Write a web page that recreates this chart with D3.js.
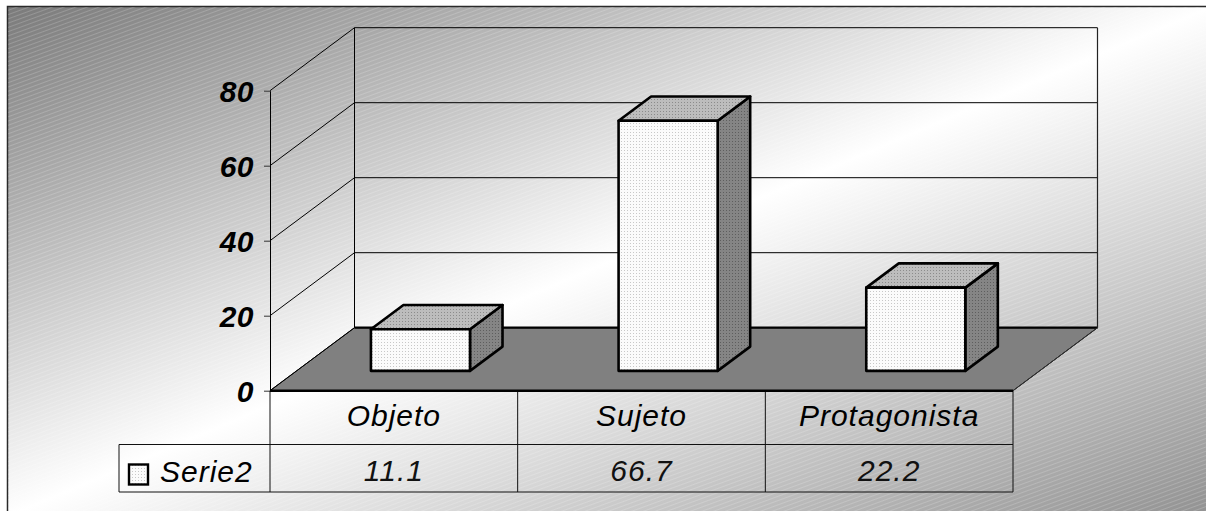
<!DOCTYPE html>
<html>
<head>
<meta charset="utf-8">
<script src="https://cdn.jsdelivr.net/npm/d3@7"></script>
<style>
  html, body { margin: 0; padding: 0; background: #ffffff; }
  svg { display: block; }
  text { font-family: "Liberation Sans", Arial, sans-serif; }
</style>
</head>
<body>
<svg id="chart" width="1206" height="511"></svg>
<script>
// Data
const categories = ["Objeto", "Sujeto", "Protagonista"];
const serie2 = [11.1, 66.7, 22.2];
const yTicks = [0, 20, 40, 60, 80];
const seriesName = "Serie2";

const W = 1206, H = 511;
const svg = d3.select("#chart");
const defs = svg.append("defs");

// Background: diagonal grey-white-grey gradient with a fine hatch texture
const grad = defs.append("linearGradient").attr("id", "bg")
  .attr("x1", 0).attr("y1", 0).attr("x2", 1).attr("y2", 1);
grad.append("stop").attr("offset", 0).attr("stop-color", "#7a7a7a");
grad.append("stop").attr("offset", 0.5).attr("stop-color", "#ffffff");
grad.append("stop").attr("offset", 1).attr("stop-color", "#919191");

const hatch = defs.append("pattern").attr("id", "hatch")
  .attr("patternUnits", "userSpaceOnUse")
  .attr("width", 12).attr("height", 4)
  .attr("patternTransform", "rotate(-20)");
hatch.append("rect").attr("width", 12).attr("height", 1)
  .attr("fill", "#ffffff").attr("opacity", 0.18);

// Dotted fills for the bar faces
function dotPattern(id, base, dot) {
  const p = defs.append("pattern").attr("id", id)
    .attr("patternUnits", "userSpaceOnUse").attr("width", 3).attr("height", 3);
  p.append("rect").attr("width", 3).attr("height", 3).attr("fill", base);
  p.append("rect").attr("width", 1).attr("height", 1).attr("fill", dot);
}
dotPattern("faceFront", "#fbfbfb", "#c8c8c8");
dotPattern("faceTop", "#bdbdbd", "#8c8c8c");
dotPattern("faceSide", "#858585", "#5e5e5e");

svg.append("rect")
  .attr("x", 7.5).attr("y", 6.5).attr("width", 1205).attr("height", 510)
  .attr("fill", "url(#bg)").attr("stroke", "#2a2a2a").attr("stroke-width", 1.5);
svg.append("rect")
  .attr("x", 8).attr("y", 7).attr("width", 1204).attr("height", 509)
  .attr("fill", "url(#hatch)");

// Scales
const y = d3.scaleLinear().domain([0, 80]).range([390.7, 90.7]);
const col = d3.scaleBand().domain(categories).range([270, 1013]);
const bx = d3.scaleBand().domain(categories).range([270, 1013])
  .paddingInner(0.6).paddingOuter(0.3);

// Oblique depth projection
const DX = 84.5, DY = -63;
const proj = (x, v, d) => [x + d * DX, y(v) + d * DY];
const poly = pts => "M" + pts.map(p => p.join(",")).join("L") + "Z";
const line = (a, b) => "M" + a.join(",") + "L" + b.join(",");

const x0 = col.range()[0], x1 = col.range()[1];
const g = svg.append("g");

// Floor
g.append("path")
  .attr("d", poly([proj(x0, 0, 0), proj(x1, 0, 0), proj(x1, 0, 1), proj(x0, 0, 1)]))
  .attr("fill", "#808080").attr("stroke", "#000").attr("stroke-width", 1);
g.append("path").attr("d", line(proj(x0, 0, 1), proj(x1, 0, 1)))
  .attr("stroke", "#000").attr("stroke-width", 2.2);

// Walls: gridlines on back wall and side wall
yTicks.filter(v => v > 0).forEach(v => {
  g.append("path").attr("d", line(proj(x0, v, 1), proj(x1, v, 1)))
    .attr("stroke", "#000").attr("stroke-width", 1).attr("fill", "none");
  g.append("path").attr("d", line(proj(x0, v, 0), proj(x0, v, 1)))
    .attr("stroke", "#000").attr("stroke-width", 1).attr("fill", "none");
});
g.append("path").attr("d", line(proj(x0, 0, 1), proj(x0, 80, 1)))
  .attr("stroke", "#000").attr("stroke-width", 1);
g.append("path").attr("d", line(proj(x1, 0, 1), proj(x1, 80, 1)))
  .attr("stroke", "#222").attr("stroke-width", 1.2);
g.append("path").attr("d", line(proj(x0, 0, 0), proj(x0, 0, 1)))
  .attr("stroke", "#000").attr("stroke-width", 1);

// Bars
const z0 = 0.315, z1 = 0.70;
const bars = g.selectAll("g.bar")
  .data(categories.map((c, i) => ({ c, v: serie2[i] })))
  .join("g").attr("class", "bar");
bars.each(function (d) {
  const a = bx(d.c), b = a + bx.bandwidth();
  const s = d3.select(this);
  const common = el => el.attr("stroke", "#000").attr("stroke-width", 2.6)
    .attr("stroke-linejoin", "round");
  common(s.append("path")
    .attr("d", poly([proj(b, 0, z0), proj(b, 0, z1), proj(b, d.v, z1), proj(b, d.v, z0)]))
    .attr("fill", "url(#faceSide)"));
  common(s.append("path")
    .attr("d", poly([proj(a, d.v, z0), proj(b, d.v, z0), proj(b, d.v, z1), proj(a, d.v, z1)]))
    .attr("fill", "url(#faceTop)"));
  common(s.append("path")
    .attr("d", poly([proj(a, 0, z0), proj(b, 0, z0), proj(b, d.v, z0), proj(a, d.v, z0)]))
    .attr("fill", "url(#faceFront)"));
});

// Value axis
const axis = svg.append("g").attr("transform", `translate(${x0},0)`)
  .call(d3.axisLeft(y).tickValues(yTicks).tickSize(6).tickSizeOuter(0)
    .tickPadding(10).tickFormat(d3.format("d")));
axis.select(".domain").attr("stroke", "#000").attr("stroke-width", 1);
axis.selectAll(".tick line").attr("stroke", "#333");
axis.selectAll(".tick text")
  .attr("font-family", "Liberation Sans, Arial, sans-serif")
  .attr("font-size", 30).attr("font-weight", "bold").attr("font-style", "italic")
  .attr("letter-spacing", 0.5).attr("fill", "#000").attr("dy", "0.35em");

// Data table
const rowTop = y(0), rowMid = 444.5, rowBot = 492;
const keyLeft = 119;
const t = svg.append("g").attr("stroke", "#111").attr("stroke-width", 1).attr("fill", "none");
t.append("path").attr("d", line([keyLeft, rowMid], [x1, rowMid]));
t.append("path").attr("d", line([keyLeft, rowBot], [x1, rowBot]));
t.append("path").attr("d", line([keyLeft, rowMid], [keyLeft, rowBot]));
[x0, ...categories.slice(1).map(c => col(c)), x1].forEach(x => {
  t.append("path").attr("d", line([x, rowTop], [x, rowBot]));
});
// Front edge of the floor
svg.append("path").attr("d", line(proj(x0, 0, 0), proj(x1, 0, 0)))
  .attr("stroke", "#000").attr("stroke-width", 2.6);
svg.append("path").attr("d", line(proj(x1, 0, 0), proj(x1, 0, 1)))
  .attr("stroke", "#333").attr("stroke-width", 1);

const txt = svg.append("g")
  .attr("font-family", "Liberation Sans, Arial, sans-serif")
  .attr("font-size", 30).attr("font-style", "italic")
  .attr("letter-spacing", 1).attr("fill", "#000");
txt.selectAll("text.cat").data(categories).join("text").attr("class", "cat")
  .attr("x", c => col(c) + col.bandwidth() / 2).attr("y", 426)
  .attr("text-anchor", "middle").text(c => c);
txt.selectAll("text.val").data(serie2).join("text").attr("class", "val")
  .attr("x", (v, i) => col(categories[i]) + col.bandwidth() / 2).attr("y", 481)
  .attr("text-anchor", "middle").attr("fill", "#111").text(v => d3.format(".1f")(v));
txt.append("text").attr("x", 160).attr("y", 482).text(seriesName);

// Legend key
svg.append("rect").attr("x", 129).attr("y", 464.5).attr("width", 19).attr("height", 20)
  .attr("fill", "url(#faceFront)").attr("stroke", "#000").attr("stroke-width", 2.4);
</script>
</body>
</html>
